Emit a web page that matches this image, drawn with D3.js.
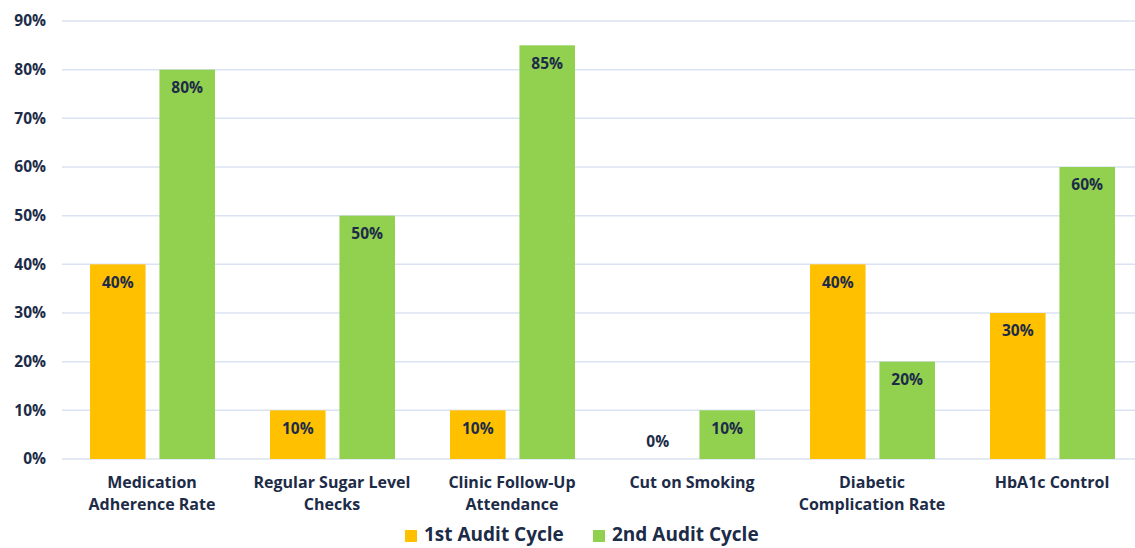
<!DOCTYPE html>
<meta charset="utf-8">
<title>Audit Cycles</title>
<style>
body { margin: 0; background: #fff; }
svg { display: block; font-family: "Open Sans", sans-serif; }
.tick text, .cat, .val, .legend text { fill: #1c2b47; font-weight: 700; }
</style>
<svg width="1135" height="548"></svg>
<script src="https://d3js.org/d3.v7.min.js"></script>
<script>
const categories = [
  ["Medication", "Adherence Rate"],
  ["Regular Sugar Level", "Checks"],
  ["Clinic Follow-Up", "Attendance"],
  ["Cut on Smoking"],
  ["Diabetic", "Complication Rate"],
  ["HbA1c Control"]
];
const series = ["1st Audit Cycle", "2nd Audit Cycle"];
const cycle1 = [40, 10, 10, 0, 40, 30];
const cycle2 = [80, 50, 85, 10, 20, 60];
const colors = ["#ffc000", "#92d050"];
const yTicks = [0, 10, 20, 30, 40, 50, 60, 70, 80, 90];

const svg = d3.select("svg");
const x = d3.scaleBand().domain(d3.range(categories.length)).range([62, 1142]).paddingInner(0).paddingOuter(0);
const inner = d3.scaleBand().domain([0, 1]).range([28, 153]).paddingInner(0.2);
const y = d3.scaleLinear().domain([0, 90]).range([459, 21]);

// gridlines
svg.append("g").selectAll("line").data(yTicks).enter().append("line")
  .attr("x1", 62).attr("x2", 1135)
  .attr("y1", d => y(d)).attr("y2", d => y(d))
  .attr("stroke", "#dae3f3").attr("stroke-width", 1.5);

// y axis labels
const yAxis = svg.append("g").attr("transform", "translate(46,0)")
  .call(d3.axisLeft(y).tickValues(yTicks).tickFormat(d => d + "%").tickSize(0).tickPadding(0));
yAxis.select(".domain").remove();
yAxis.selectAll("text").attr("font-size", 15.5).attr("font-family", "Open Sans, sans-serif");

const rows = categories.map((c, i) => [cycle1[i], cycle2[i]]);

const groups = svg.append("g").selectAll("g").data(rows).enter().append("g")
  .attr("transform", (d, i) => `translate(${x(i) - 62},0)`);

groups.selectAll("rect").data(d => d).enter().append("rect")
  .attr("x", (d, j) => 62 + inner(j))
  .attr("width", inner.bandwidth())
  .attr("y", d => y(d))
  .attr("height", d => y(0) - y(d))
  .attr("fill", (d, j) => colors[j]);

groups.selectAll("text").data(d => d).enter().append("text")
  .attr("class", "val")
  .attr("x", (d, j) => 62 + inner(j) + inner.bandwidth() / 2)
  .attr("y", d => d === 0 ? y(d) - 17 : y(d) + 18)
  .attr("dy", "0.35em")
  .attr("text-anchor", "middle")
  .attr("font-size", 15.5)
  .text(d => d + "%");

// category labels
const cats = svg.append("g").selectAll("text").data(categories).enter().append("text")
  .attr("class", "cat")
  .attr("x", (d, i) => x(i) + x.bandwidth() / 2)
  .attr("y", 488)
  .attr("text-anchor", "middle")
  .attr("font-size", 16);
cats.selectAll("tspan").data(d => d).enter().append("tspan")
  .attr("x", function() { return this.parentNode.getAttribute("x"); })
  .attr("dy", (d, k) => k === 0 ? 0 : 22)
  .text(d => d);

// legend
const legendX = [405, 593];
const legend = svg.append("g").attr("class", "legend").selectAll("g").data(series).enter().append("g")
  .attr("transform", (d, i) => `translate(${legendX[i]},534)`);
legend.append("rect").attr("x", 0).attr("y", -4).attr("width", 12).attr("height", 12)
  .attr("fill", (d, i) => colors[i]);
legend.append("text").attr("x", 19).attr("dy", "0.35em").attr("font-size", 19).text(d => d);
</script>
